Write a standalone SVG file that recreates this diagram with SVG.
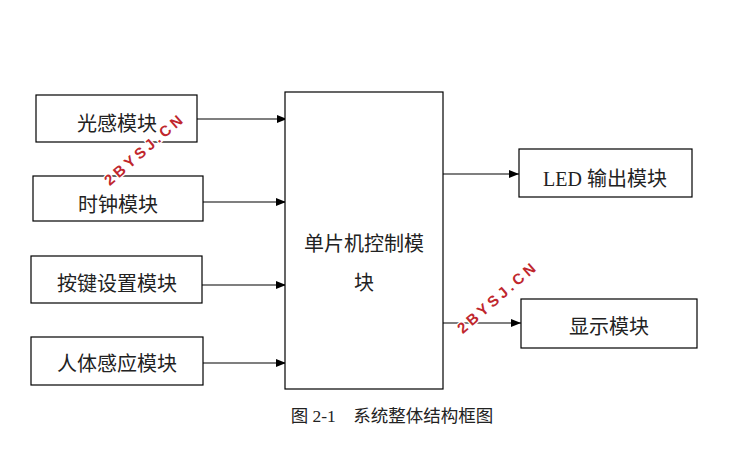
<svg xmlns="http://www.w3.org/2000/svg" width="736" height="463" viewBox="0 0 736 463">
<style>
.box{fill:#fff;stroke:#000;stroke-width:1.2}
.t{font-family:"Liberation Serif","Noto Sans CJK SC",serif;font-size:20px;fill:#222;text-anchor:middle}
.c{stroke:#000;stroke-width:1.2;fill:none;marker-end:url(#ah)}
.wm{font-family:"Liberation Sans",sans-serif;font-weight:bold;font-size:15px;letter-spacing:3.5px;fill:#c0272d;stroke:#fff;stroke-width:2.5;paint-order:stroke;text-anchor:middle}
</style>
<defs>
<marker id="ah" viewBox="0 0 10 8" refX="10" refY="4" markerWidth="10" markerHeight="8" markerUnits="userSpaceOnUse" orient="auto">
<path d="M0,0 L10,4 L0,8 Z" fill="#000"/>
</marker>
</defs>
<rect width="736" height="463" fill="#fff"/>
<g id="connectors">
<line class="c" x1="197" y1="119" x2="287" y2="119"/>
<line class="c" x1="203" y1="202" x2="286" y2="202"/>
<line class="c" x1="202" y1="285" x2="286" y2="285"/>
<line class="c" x1="203" y1="363" x2="286" y2="363"/>
<line class="c" x1="443" y1="174" x2="519" y2="174"/>
<line class="c" x1="443" y1="323" x2="521" y2="323"/>
</g>
<g id="n-guang"><rect class="box" x="36" y="95" width="161" height="47"/><text class="t" x="117" y="131">光感模块</text></g>
<g id="n-shizhong"><rect class="box" x="33" y="176" width="170" height="45"/><text class="t" x="118" y="212">时钟模块</text></g>
<g id="n-anjian"><rect class="box" x="31" y="256" width="171" height="47"/><text class="t" x="117" y="291">按键设置模块</text></g>
<g id="n-renti"><rect class="box" x="31" y="337" width="172" height="48"/><text class="t" x="117" y="371">人体感应模块</text></g>
<g id="n-mcu"><rect class="box" x="285" y="92" width="158" height="297"/><text class="t" x="364" y="251">单片机控制模</text><text class="t" x="364" y="290">块</text></g>
<g id="n-led"><rect class="box" x="519" y="149" width="173" height="48"/><text class="t" x="605" y="186">LED 输出模块</text></g>
<g id="n-xianshi"><rect class="box" x="521" y="299" width="176" height="49"/><text class="t" x="609" y="334">显示模块</text></g>
<text x="392" y="422" font-family="Liberation Serif,'Noto Sans CJK SC',serif" font-size="17.5" fill="#222" text-anchor="middle" xml:space="preserve">图 2-1    系统整体结构框图</text>
<text class="wm" transform="translate(148,153) rotate(-41)">2BYSJ.CN</text>
<text class="wm" transform="translate(501,301) rotate(-41)">2BYSJ.CN</text>
</svg>
